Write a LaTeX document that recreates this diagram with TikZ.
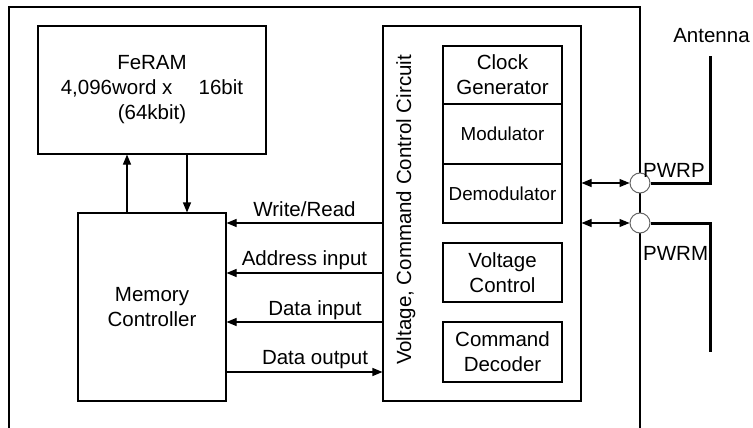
\documentclass[tikz,border=0pt]{standalone}
\usepackage{fontspec}
\setmainfont{Liberation Sans}
\usetikzlibrary{arrows.meta}
\begin{document}
\begin{tikzpicture}[x=1pt,y=-1pt,
  box/.style={draw, line width=1.1pt, inner sep=0pt, align=center,
    font=\fontsize{20.5}{25}\selectfont},
  smallbox/.style={box, font=\fontsize{18.8}{23}\selectfont},
  lbl/.style={font=\fontsize{20.5}{25}\selectfont, anchor=base, inner sep=0pt},
  arr/.style={line width=1.1pt, -{Triangle[length=10pt,width=8pt]}},
  dbl/.style={line width=1.1pt, {Triangle[length=10pt,width=8pt]}-{Triangle[length=10pt,width=8pt]}},
  ant/.style={line width=3pt},
  port/.style={circle, draw=black!60, fill=white, line width=1pt, minimum size=20pt, inner sep=0pt}
]
\useasboundingbox (0,0) rectangle (753,428);
% outer frame
\coordinate (fbl) at (9,432);
\coordinate (ftl) at (9,7);
\coordinate (ftr) at (640,7);
\coordinate (fbr) at (640,432);
\draw[line width=1.1pt] (fbl) -- (ftl) -- (ftr) -- (fbr);

% main blocks
\node[box, minimum width=228pt, minimum height=128pt] (feram) at (152,90)
  {FeRAM\\4,096word x \quad16bit\\(64kbit)};
\node[box, minimum width=148pt, minimum height=188pt] (mem) at (152,307)
  {Memory\\Controller};
\node[box, minimum width=198pt, minimum height=375pt] (vcc) at (482,213.5) {};
\node[lbl, rotate=90] (vcclbl) at (411,210) {Voltage, Command Control Circuit};

\node[box, minimum width=119pt, minimum height=58pt] (clk) at (502.5,75) {Clock\\Generator};
\node[smallbox, minimum width=119pt, minimum height=60pt] (mod) at (502.5,134) {Modulator};
\node[smallbox, minimum width=119pt, minimum height=59pt] (demod) at (502.5,193.5) {Demodulator};
\node[box, minimum width=119pt, minimum height=59pt] (volt) at (502.5,272.5) {Voltage\\Control};
\node[box, minimum width=119pt, minimum height=60pt] (cmd) at (502.5,352) {Command\\Decoder};

% FeRAM <-> Memory controller
\draw[arr] ([xshift=-25pt]mem.north) -- ([xshift=-25pt]feram.south);
\draw[arr] ([xshift=35pt]feram.south) -- ([xshift=35pt]mem.north);

% signal arrows
\coordinate (y1) at (0,223);
\coordinate (y2) at (0,273);
\coordinate (y3) at (0,322);
\coordinate (y4) at (0,372);
\draw[arr] (vcc.west |- y1) -- (mem.east |- y1);
\draw[arr] (vcc.west |- y2) -- (mem.east |- y2);
\draw[arr] (vcc.west |- y3) -- (mem.east |- y3);
\draw[arr] (mem.east |- y4) -- (vcc.west |- y4);
\node[lbl] (l1) at (304.5,216) {Write/Read};
\node[lbl] (l2) at (304.5,265.5) {Address input};
\node[lbl] (l3) at (315,315) {Data input};
\node[lbl] (l4) at (315,364.5) {Data output};

% ports and antenna
\node[port] (pwrp) at (640,183) {};
\node[port] (pwrm) at (640,223) {};
\draw[dbl] (vcc.east |- pwrp) -- (pwrp.west);
\draw[dbl] (vcc.east |- pwrm) -- (pwrm.west);
\coordinate (anttop) at (710,56);
\coordinate (antbot) at (710,352);
\draw[ant] (pwrp.east) -| (anttop);
\draw[ant] (pwrm.east) -| (antbot);
\node[lbl] (antlbl) at (711.5,42.7) {Antenna};
\node[lbl, anchor=base west] (pwrplbl) at (643,177.5) {PWRP};
\node[lbl, anchor=base west] (pwrmlbl) at (643,260.5) {PWRM};
\end{tikzpicture}
\end{document}
